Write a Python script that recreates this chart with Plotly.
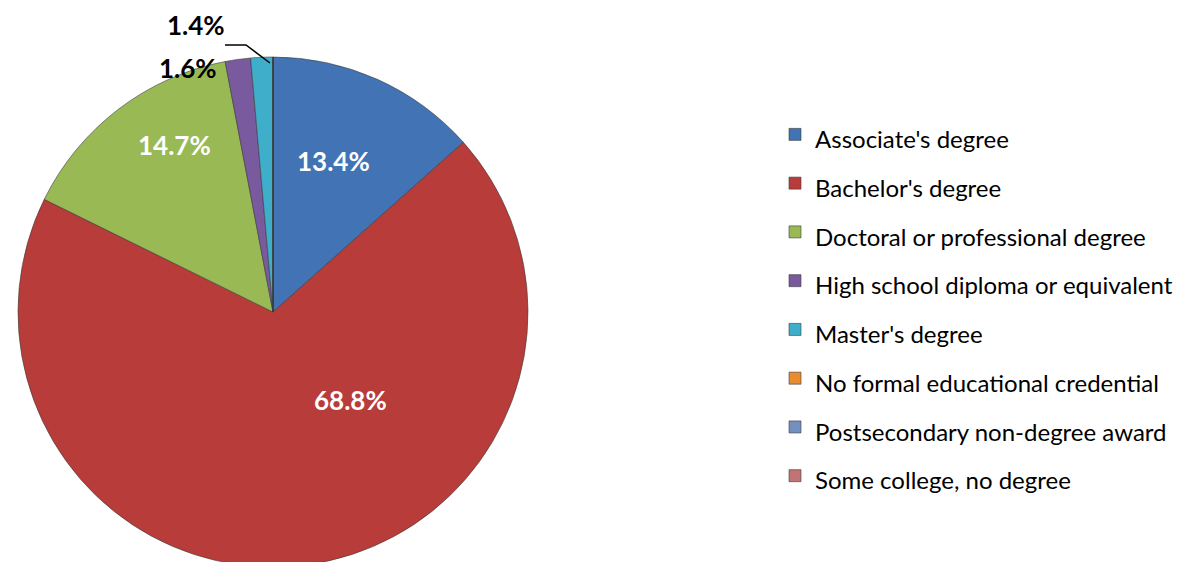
import plotly.graph_objects as go

categories = ["Associate's degree", "Bachelor's degree", "Doctoral or professional degree",
              "High school diploma or equivalent", "Master's degree",
              "No formal educational credential", "Postsecondary non-degree award",
              "Some college, no degree"]
values = [13.4, 68.8, 14.7, 1.6, 1.4, 0, 0, 0]
colors = ["#4273B5", "#B83C39", "#99B955", "#7A5A9E", "#3FAECB", "#E98B2F", "#7390C0", "#C27474"]

W, H = 1183, 562

# label placements (pixel positions of label anchor), label colours
label_pos = [(325, 153), (342, 392), (167, 137), (180, 60), (188, 17)]
label_col = ["white", "white", "white", "black", "black"]

legend_labels = [f'<span style="font-size:24px">{c}</span>' for c in categories]

fig = go.Figure(go.Pie(
    labels=legend_labels, values=values, sort=False, direction="clockwise", rotation=0,
    marker=dict(colors=colors, line=dict(color="rgba(60,60,60,0.6)", width=1)),
    textinfo="none", hoverinfo="label+percent",
    domain=dict(x=[10 / W, 520 / W], y=[0, 1 - 46 / H]),
))

annotations = []
for v, (px, py), col in zip(values, label_pos, label_col):
    annotations.append(dict(x=px / W, y=1 - py / H, xref="paper", yref="paper",
                            xanchor="center", yanchor="middle", borderpad=0,
                            text=f"<b>{v:.1f}%</b>", showarrow=False,
                            font=dict(family="Lato", size=26, color=col)))

fig.update_layout(
    width=W, height=H, margin=dict(l=0, r=0, t=0, b=0),
    paper_bgcolor="white", plot_bgcolor="white",
    annotations=annotations,
    shapes=[dict(type="path", xref="paper", yref="paper",
                 path=f"M {217/W} {1-37/H} L {238/W} {1-37/H} L {262/W} {1-55/H}",
                 line=dict(color="black", width=1.5))],
    legend=dict(x=767 / W, y=1 - 97 / H, xanchor="left", yanchor="top",
                font=dict(family="Lato", size=35.2, color="black"),
                bgcolor="rgba(0,0,0,0)"),
)

fig.write_html("out.html")
